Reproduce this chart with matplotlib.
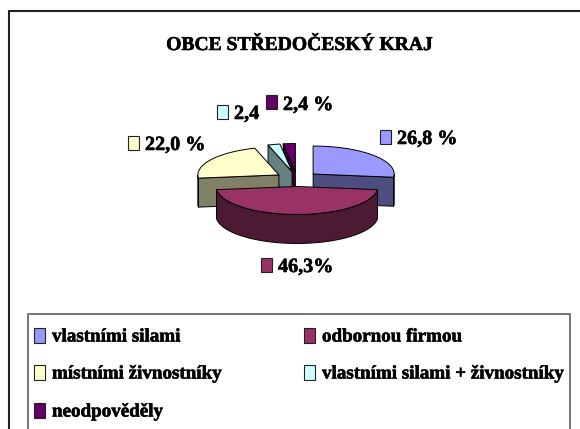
import numpy as np
import matplotlib
matplotlib.use("Agg")
import matplotlib.pyplot as plt
from matplotlib.patches import Polygon, Rectangle
import matplotlib.patheffects as pe

title = "OBCE STŘEDOČESKÝ KRAJ"
categories = ["vlastními silami", "odbornou firmou", "místními živnostníky",
              "vlastními silami + živnostníky", "neodpověděly"]
values = [26.8, 46.3, 22.0, 2.4, 2.4]
value_labels = ["26,8 %", "46,3%", "22,0 %", "2,4", "2,4 %"]
top_colors = ["#9999FF", "#993366", "#FFFFCC", "#CCFFFF", "#660066"]
side_colors = ["#4D4D80", "#4D1A33", "#808066", "#668080", "#330033"]

W, H = 580, 429
plt.rcParams["font.family"] = ["Liberation Serif", "DejaVu Serif"]
fig = plt.figure(figsize=(W / 100, H / 100), dpi=100, facecolor="white")
ax = fig.add_axes([0, 0, 1, 1])
ax.set_xlim(0, W)
ax.set_ylim(H, 0)
ax.axis("off")

heavy = [pe.withStroke(linewidth=0.4, foreground="black")]

ax.plot([8.5, 8.5, W], [H, 11, 11], color="#222222", lw=1.5, solid_capstyle="butt")
ax.plot([27.5, 27.5, 569.5, 569.5], [H, 314, 314, H], color="#777777", lw=1.4, solid_capstyle="butt")

ax.text(300, 45, title, ha="center", va="center", fontsize=14.1, fontweight="bold",
        color="black", path_effects=heavy)

CX, CY = 297, 179
RX, RY = 81, 28
DEPTH = 29
EXPL = 21.6
SQ = RY / RX
LW = 0.7

def rim(cx, cy, a0, a1, drop=0):
    t = np.radians(np.linspace(a0, a1, 80))
    return np.column_stack([cx + RX * np.sin(t), cy - RY * np.cos(t) + drop])

edges = np.cumsum([0] + values) / sum(values) * 360
geom = []
for i in range(len(values)):
    a0, a1 = edges[i], edges[i + 1]
    mid = np.radians((a0 + a1) / 2)
    geom.append((a0, a1, CX + EXPL * np.sin(mid), CY - EXPL * SQ * np.cos(mid)))

def draw(i):
    a0, a1, cx, cy = geom[i]
    kw = dict(facecolor=side_colors[i], edgecolor="black", lw=LW, joinstyle="round")
    faces = []
    if np.sin(np.radians(a0)) < -1e-6:
        faces.append(a0)
    if np.sin(np.radians(a1)) > 1e-6:
        faces.append(a1)
    for a in faces:
        p = rim(cx, cy, a, a)[0]
        ax.add_patch(Polygon([(cx, cy), p, (p[0], p[1] + DEPTH), (cx, cy + DEPTH)], **kw))
    lo, hi = max(a0, 90), min(a1, 270)
    if hi > lo:
        top = rim(cx, cy, lo, hi)
        bot = rim(cx, cy, lo, hi, DEPTH)[::-1]
        ax.add_patch(Polygon(np.vstack([top, bot]), **kw))
    ax.add_patch(Polygon(np.vstack([[(cx, cy)], rim(cx, cy, a0, a1)]),
                         facecolor=top_colors[i], edgecolor="black", lw=LW, joinstyle="round"))

for i in (4, 3, 2, 0, 1):
    draw(i)

label_pos = [(397, 139), (278, 267), (145, 145), (234, 114), (283, 105)]
swatch_xy = [(380, 130), (261, 258), (128, 136), (217, 105), (266, 95)]
for i in range(len(values)):
    x, y = swatch_xy[i]
    ax.add_patch(Rectangle((x, y), 11, 14, facecolor=top_colors[i], edgecolor="#222222", lw=0.8))
    x, y = label_pos[i]
    ax.text(x, y, value_labels[i], ha="left", va="center", fontsize=14.5, fontweight="bold",
            color="black", path_effects=heavy)

legend_pos = [(34, 335.5), (304, 335.5), (34, 372.5), (304, 372.5), (34, 410.5)]
for i, (x, y) in enumerate(legend_pos):
    ax.add_patch(Rectangle((x, y - 7.5), 11, 15, facecolor=top_colors[i], edgecolor="#222222", lw=0.8))
    ax.text(x + 18, y + 1.5, categories[i], ha="left", va="center", fontsize=13.7, fontweight="bold",
            color="black", path_effects=heavy)

fig.savefig("out.png", dpi=100, facecolor="white")
